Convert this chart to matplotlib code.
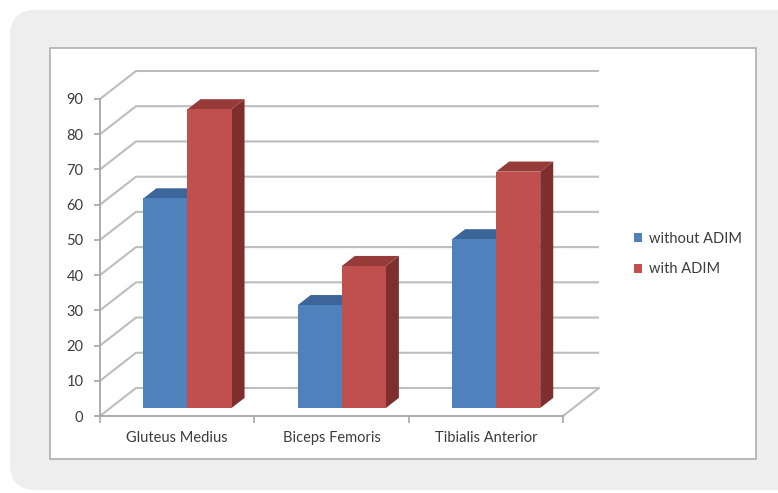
import matplotlib
matplotlib.use("Agg")
import matplotlib.pyplot as plt
from matplotlib.patches import FancyBboxPatch, Rectangle, Patch, Polygon
from matplotlib.transforms import IdentityTransform

plt.rcParams['font.family'] = ['Lato', 'DejaVu Sans']

# ---- data -------------------------------------------------------------
categories = ["Gluteus Medius", "Biceps Femoris", "Tibialis Anterior"]
series_names = ["without ADIM", "with ADIM"]
without_adim = [59.5, 29.2, 47.9]
with_adim = [84.8, 40.3, 67.1]
y_ticks = [0, 10, 20, 30, 40, 50, 60, 70, 80, 90]

# ---- style ------------------------------------------------------------
front_colors = ["#4F81BD", "#C0504D"]
top_colors = ["#3C6699", "#963B39"]
side_colors = ["#345A87", "#7E2E2C"]
grid_color = "#BDBDBD"
text_color = "#3C3C3C"

W, H = 778, 493
fig = plt.figure(figsize=(W / 100, H / 100), dpi=100)
fig.patch.set_facecolor("white")

# background card and chart panel (pixel coordinates, origin bottom-left)
ident = IdentityTransform()
card = FancyBboxPatch((10, H - 490), 820, 480,
                      boxstyle="round,pad=0,rounding_size=26",
                      transform=ident, facecolor="#EEEEEE", edgecolor="none",
                      zorder=-3)
panel = Rectangle((50, H - 459), 706, 411, transform=ident,
                  facecolor="white", edgecolor="#A8A8A8", linewidth=1.1,
                  zorder=-2)
fig.patches.extend([card, panel])

# front plane of the 3-D plot
ax_left, ax_right, ax_bottom, ax_top = 100, 563, 416, 99
ax = fig.add_axes([ax_left / W, (H - ax_bottom) / H,
                   (ax_right - ax_left) / W, (ax_bottom - ax_top) / H])
ax.set_facecolor("none")
n_cat = len(categories)
ax.set_xlim(0, n_cat)
ax.set_ylim(0, 90)

# depth of the plot box, expressed in data units
px_x = (ax_right - ax_left) / n_cat
px_y = (ax_bottom - ax_top) / 90
DX = 36 / px_x
DY = 28 / px_y

# back wall gridlines with their diagonals on the side wall
for v in y_ticks:
    ax.plot([0, DX, n_cat + DX], [v, v + DY, v + DY], color=grid_color,
            lw=1.5, clip_on=False, zorder=1, solid_capstyle="butt")
# floor right edge
ax.plot([n_cat, n_cat + DX], [0, DY], color=grid_color, lw=1.5,
        clip_on=False, zorder=1)

# bars
gap = 1.5
bar_w = 1 / (2 + gap)
d_front, d_back = 0.286, 0.647
ddx = (d_back - d_front) * DX
ddy = (d_back - d_front) * DY
for i in range(n_cat):
    for j, vals in enumerate([without_adim, with_adim]):
        v = vals[i]
        x0 = i + gap / 2 * bar_w + j * bar_w + d_front * DX
        y0 = d_front * DY
        top = v + y0
        side = Polygon([(x0 + bar_w, y0), (x0 + bar_w, top),
                        (x0 + bar_w + ddx, top + ddy), (x0 + bar_w + ddx, y0 + ddy)],
                       closed=True, facecolor=side_colors[j], edgecolor="none",
                       clip_on=False, zorder=3 + j)
        roof = Polygon([(x0, top), (x0 + bar_w, top),
                        (x0 + bar_w + ddx, top + ddy), (x0 + ddx, top + ddy)],
                       closed=True, facecolor=top_colors[j], edgecolor="none",
                       clip_on=False, zorder=3 + j)
        face = Rectangle((x0, y0), bar_w, v, facecolor=front_colors[j],
                         edgecolor="none", clip_on=False, zorder=3 + j)
        for p in (side, roof, face):
            ax.add_patch(p)

# axes styling
for s in ("top", "right"):
    ax.spines[s].set_visible(False)
for s in ("left", "bottom"):
    ax.spines[s].set_color("#A6A6A6")
    ax.spines[s].set_linewidth(1.3)
    ax.spines[s].set_zorder(2)

ax.set_yticks(y_ticks)
ax.set_yticklabels([str(t) for t in y_ticks])
ax.tick_params(axis="y", length=4, width=1.2, color="#A6A6A6", pad=8,
               labelsize=10.5, labelcolor=text_color)

ax.set_xticks(range(n_cat + 1))
ax.set_xticklabels([])
ax.set_xticks([i + 0.5 for i in range(n_cat)], minor=True)
ax.set_xticklabels(categories, minor=True)
ax.tick_params(axis="x", which="major", length=5, width=1.2, color="#A6A6A6")
ax.tick_params(axis="x", which="minor", length=0, pad=11,
               labelsize=10.5, labelcolor=text_color)

# legend
handles = [Patch(facecolor=c, edgecolor="none") for c in front_colors]
leg = fig.legend(handles, series_names, loc="center left",
                 bbox_to_anchor=(627 / W, (H - 254) / H), frameon=False,
                 fontsize=10.5, handlelength=0.55, handleheight=0.55,
                 handletextpad=0.45, labelspacing=1.15, borderpad=0)
for t in leg.get_texts():
    t.set_color(text_color)

fig.savefig("out.png", dpi=100)
